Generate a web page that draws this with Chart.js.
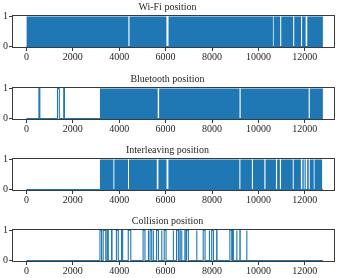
<!DOCTYPE html>
<html>
<head>
<meta charset="UTF-8">
<title>positions</title>
<script src="https://cdn.jsdelivr.net/npm/chart.js"></script>
<style>
    body {
        margin: 0;
        width: 342px;
        height: 278px;
        overflow: hidden;
        position: relative;
        background: #fff;
    }
    .panel {
        position: absolute;
        left: 0;
        width: 342px;
        height: 71px;
    }
</style>
</head>
<body>
<div class="panel" style="top:0px"><canvas id="wifi"></canvas></div>
<div class="panel" style="top:72px"><canvas id="bt"></canvas></div>
<div class="panel" style="top:143px"><canvas id="inter"></canvas></div>
<div class="panel" style="top:214px"><canvas id="coll"></canvas></div>
<script>
// axis ticks
const xTicks = [0, 2000, 4000, 6000, 8000, 10000, 12000];
const yTicks = [0, 1];
const xEnd = 12780;

// dense "on" regions (drawn solid) and isolated pulses (outline only), sample index
const wifiBlocks = [[0, 4395], [4445, 6035], [6125, 10625], [10655, 10938], [10983, 11498],
    [11543, 11838], [11883, 12035], [12105, 12780]];
const wifiPulses = [];

const btBlocks = [[3170, 5660], [5720, 9185], [9235, 12165], [12215, 12780]];
const btPulses = [[540, 580], [1340, 1420], [1610, 1640]];

const interBlocks = [[3170, 3750], [3790, 4378], [4423, 5620], [5690, 6040], [6120, 9178],
    [9223, 9718], [9763, 10255], [10305, 10755], [10805, 10925], [10975, 11480],
    [11520, 11830], [11890, 11953], [11988, 12040], [12100, 12168], [12213, 12383],
    [12418, 12750]];
const interPulses = [];

const collBlocks = [];
const collPulses = [[3170, 3240], [3310, 3420], [3480, 3530], [3670, 3690], [3880, 3960],
    [4100, 4150], [4390, 4500], [5030, 5110], [5250, 5265], [5330, 5400], [5460, 5480],
    [5610, 5690], [5825, 5840], [5940, 6020], [6325, 6340], [6470, 6550], [6615, 6630],
    [6690, 6700], [6830, 6845], [6900, 6980], [7335, 7350], [7620, 7700], [7880, 7895],
    [7985, 8060], [8200, 8215], [8770, 8850], [8880, 8920], [9060, 9075], [9200, 9215],
    [9490, 9505]];

const blue = '#1f77b4';
const ink = '#262626';
const serif = 'Liberation Serif';

// 0/1 step signal through the intervals
function stepPoints(intervals, end) {
    const pts = [{x: 0, y: 0}];
    intervals.forEach(([a, b]) => {
        pts.push({x: a, y: 0}, {x: a, y: 1}, {x: b, y: 1}, {x: b, y: 0});
    });
    if (end !== undefined) pts.push({x: end, y: 0});
    return pts;
}

// matplotlib style box round the plot area
const frame = {
    id: 'frame',
    afterDraw(chart) {
        const a = chart.chartArea;
        const ctx = chart.ctx;
        ctx.save();
        ctx.strokeStyle = '#3a3a3a';
        ctx.lineWidth = 1;
        ctx.strokeRect(Math.round(a.left) + 0.5, Math.round(a.top) + 0.5,
            Math.round(a.right - a.left) - 1, Math.round(a.bottom - a.top) - 1);
        ctx.restore();
    }
};

function makeChart(id, title, blocks, pulses) {
    return new Chart(document.getElementById(id), {
        type: 'line',
        data: {
            datasets: [{
                data: stepPoints(blocks),
                borderWidth: 0,
                borderColor: 'rgba(0,0,0,0)',
                backgroundColor: blue,
                fill: 'origin',
                pointRadius: 0,
                tension: 0
            }, {
                data: stepPoints(pulses, xEnd),
                borderWidth: 1.1,
                borderColor: blue,
                fill: false,
                pointRadius: 0,
                tension: 0
            }]
        },
        options: {
            animation: false,
            responsive: true,
            maintainAspectRatio: false,
            layout: { padding: { left: 0, right: 7, top: 0, bottom: 0 } },
            plugins: {
                legend: { display: false },
                tooltip: { enabled: false },
                title: {
                    display: true,
                    text: title,
                    color: ink,
                    font: { family: serif, size: 10, weight: 'normal', lineHeight: 1.2 },
                    padding: { top: 1, bottom: 2 }
                }
            },
            scales: {
                x: {
                    type: 'linear',
                    min: -620,
                    max: 13300,
                    afterBuildTicks: s => { s.ticks = xTicks.map(v => ({value: v})); },
                    afterFit: s => { s.height = 23; },
                    ticks: {
                        color: ink,
                        font: { family: serif, size: 10 },
                        padding: 0,
                        maxRotation: 0,
                        autoSkip: false,
                        callback: v => String(v)
                    },
                    grid: { drawOnChartArea: false, tickLength: 3, color: '#3a3a3a' },
                    border: { display: false }
                },
                y: {
                    min: -0.05,
                    max: 1.05,
                    afterBuildTicks: s => { s.ticks = yTicks.map(v => ({value: v})); },
                    afterFit: s => { s.width = 12; },
                    ticks: {
                        color: ink,
                        font: { family: serif, size: 10 },
                        padding: 1,
                        callback: v => String(v)
                    },
                    grid: { drawOnChartArea: false, tickLength: 3, color: '#3a3a3a' },
                    border: { display: false }
                }
            }
        },
        plugins: [frame]
    });
}

makeChart('wifi', 'Wi-Fi position', wifiBlocks, wifiPulses);
makeChart('bt', 'Bluetooth position', btBlocks, btPulses);
makeChart('inter', 'Interleaving position', interBlocks, interPulses);
makeChart('coll', 'Collision position', collBlocks, collPulses);
</script>
</body>
</html>
